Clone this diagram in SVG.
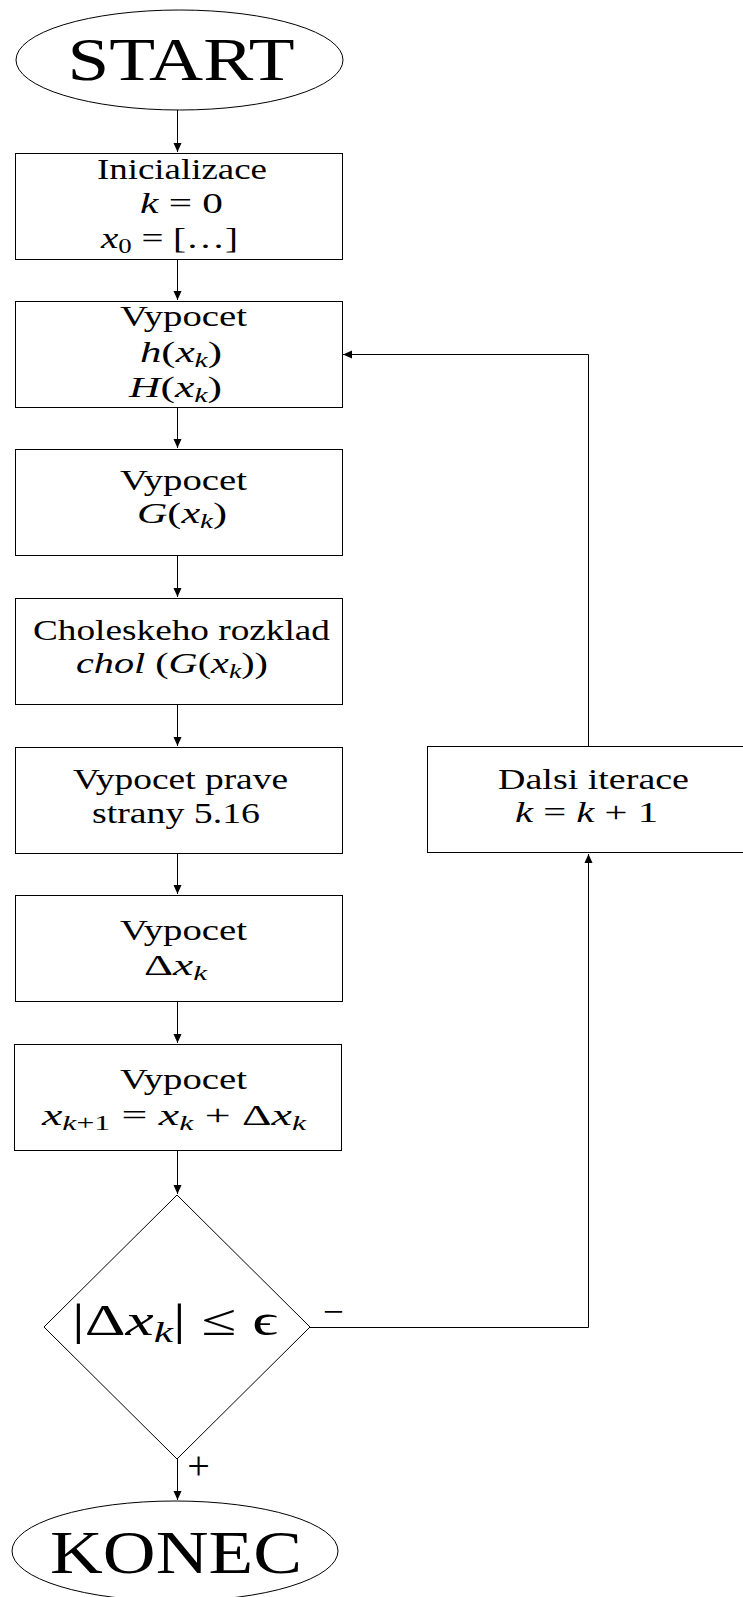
<svg xmlns="http://www.w3.org/2000/svg" width="743" height="1597" viewBox="0 0 743 1597">
<style>
.s{fill:#fff;stroke:#000;stroke-width:1}
.t{font-family:"Liberation Serif","DejaVu Serif",serif;font-size:29px;fill:#000;text-anchor:middle}
.i{font-style:italic}
.sub{font-size:20px;font-style:italic}
.n{font-style:normal}
.c{fill:none;stroke:#000;stroke-width:1}
</style>
<defs>
<marker id="ah" markerWidth="10" markerHeight="10" refX="9" refY="5" orient="auto" markerUnits="userSpaceOnUse">
<path d="M0,1 L9,5 L0,9 Z" fill="#000"/>
</marker>
</defs>
<rect width="743" height="1597" fill="#fff"/>
<g id="connectors">
<path class="c" d="M177.5,110 V152" marker-end="url(#ah)"/>
<path class="c" d="M177.5,260 V300" marker-end="url(#ah)"/>
<path class="c" d="M177.5,408 V448" marker-end="url(#ah)"/>
<path class="c" d="M177.5,556 V597" marker-end="url(#ah)"/>
<path class="c" d="M177.5,705 V746" marker-end="url(#ah)"/>
<path class="c" d="M177.5,854 V894" marker-end="url(#ah)"/>
<path class="c" d="M177.5,1002 V1043" marker-end="url(#ah)"/>
<path class="c" d="M177.5,1151 V1194" marker-end="url(#ah)"/>
<path class="c" d="M177.5,1459 V1500" marker-end="url(#ah)"/>
<path class="c" d="M310,1327.5 H588.5 V854" marker-end="url(#ah)"/>
<path class="c" d="M588.5,746 V354.5 H343" marker-end="url(#ah)"/>
<text class="t" x="198.5" y="1479" style="font-size:40px">+</text>
<text class="t" x="333.5" y="1324" style="font-size:37px">−</text>
</g>
<g id="start">
<ellipse class="s" cx="179.5" cy="60" rx="163.5" ry="50"/>
<text class="t" x="181" y="80" style="font-size:62px" textLength="227" lengthAdjust="spacingAndGlyphs">START</text>
</g>
<g id="init">
<rect class="s" x="15.5" y="153.5" width="327" height="106"/>
<text class="t" x="182" y="179" textLength="170" lengthAdjust="spacingAndGlyphs">Inicializace</text>
<text class="t" x="181.5" y="213" textLength="83" lengthAdjust="spacingAndGlyphs"><tspan class="i">k</tspan> = 0</text>
<text class="t" x="169.5" y="248" textLength="137" lengthAdjust="spacingAndGlyphs"><tspan class="i">x</tspan><tspan class="sub n" dy="5">0</tspan><tspan dy="-5"> = […]</tspan></text>
</g>
<g id="vypocet-h">
<rect class="s" x="15.5" y="301.5" width="327" height="106"/>
<text class="t" x="183.5" y="326" textLength="127" lengthAdjust="spacingAndGlyphs">Vypocet</text>
<text class="t" x="181" y="362" textLength="82" lengthAdjust="spacingAndGlyphs"><tspan class="i">h</tspan>(<tspan class="i">x</tspan><tspan class="sub" dy="5">k</tspan><tspan dy="-5">)</tspan></text>
<text class="t" x="175.5" y="397" textLength="93" lengthAdjust="spacingAndGlyphs"><tspan class="i">H</tspan>(<tspan class="i">x</tspan><tspan class="sub" dy="5">k</tspan><tspan dy="-5">)</tspan></text>
</g>
<g id="vypocet-g">
<rect class="s" x="15.5" y="449.5" width="327" height="106"/>
<text class="t" x="183.5" y="490" textLength="127" lengthAdjust="spacingAndGlyphs">Vypocet</text>
<text class="t" x="182" y="523" textLength="90" lengthAdjust="spacingAndGlyphs"><tspan class="i">G</tspan>(<tspan class="i">x</tspan><tspan class="sub" dy="5">k</tspan><tspan dy="-5">)</tspan></text>
</g>
<g id="cholesky">
<rect class="s" x="15.5" y="598.5" width="327" height="106"/>
<text class="t" x="181.5" y="640" textLength="297" lengthAdjust="spacingAndGlyphs">Choleskeho rozklad</text>
<text class="t" x="172" y="673" textLength="192" lengthAdjust="spacingAndGlyphs"><tspan class="i">chol</tspan> (<tspan class="i">G</tspan>(<tspan class="i">x</tspan><tspan class="sub" dy="5">k</tspan><tspan dy="-5">))</tspan></text>
</g>
<g id="prava-strana">
<rect class="s" x="15.5" y="747.5" width="327" height="106"/>
<text class="t" x="180.5" y="789" textLength="215" lengthAdjust="spacingAndGlyphs">Vypocet prave</text>
<text class="t" x="176" y="823" textLength="168" lengthAdjust="spacingAndGlyphs">strany 5.16</text>
</g>
<g id="vypocet-dx">
<rect class="s" x="15.5" y="895.5" width="327" height="106"/>
<text class="t" x="183.5" y="940" textLength="127" lengthAdjust="spacingAndGlyphs">Vypocet</text>
<text class="t" x="175.5" y="975" textLength="63" lengthAdjust="spacingAndGlyphs">Δ<tspan class="i">x</tspan><tspan class="sub" dy="5">k</tspan></text>
</g>
<g id="vypocet-x">
<rect class="s" x="14.5" y="1044.5" width="327" height="106"/>
<text class="t" x="183.5" y="1089" textLength="127" lengthAdjust="spacingAndGlyphs">Vypocet</text>
<text class="t" x="174" y="1125" textLength="264" lengthAdjust="spacingAndGlyphs"><tspan class="i">x</tspan><tspan class="sub" dy="5">k</tspan><tspan class="sub n">+1</tspan><tspan dy="-5"> = </tspan><tspan class="i">x</tspan><tspan class="sub" dy="5">k</tspan><tspan dy="-5"> + Δ</tspan><tspan class="i">x</tspan><tspan class="sub" dy="5">k</tspan></text>
</g>
<g id="condition">
<polygon class="s" points="177,1195 310,1327 177,1459 44,1327"/>
<text class="t" x="175" y="1335" style="font-size:44px" textLength="206" lengthAdjust="spacingAndGlyphs">|Δ<tspan class="i">x</tspan><tspan style="font-size:30px;font-style:italic" dy="7">k</tspan><tspan dy="-7">| ≤ ϵ</tspan></text>
</g>
<g id="dalsi">
<rect class="s" x="427.5" y="746.5" width="328" height="106"/>
<text class="t" x="593.5" y="789" textLength="191" lengthAdjust="spacingAndGlyphs">Dalsi iterace</text>
<text class="t" x="586.5" y="822" textLength="143" lengthAdjust="spacingAndGlyphs"><tspan class="i">k</tspan> = <tspan class="i">k</tspan> + 1</text>
</g>
<g id="konec">
<ellipse class="s" cx="175" cy="1551" rx="163" ry="50"/>
<text class="t" x="176" y="1573" style="font-size:62px" textLength="252" lengthAdjust="spacingAndGlyphs">KONEC</text>
</g>
</svg>
